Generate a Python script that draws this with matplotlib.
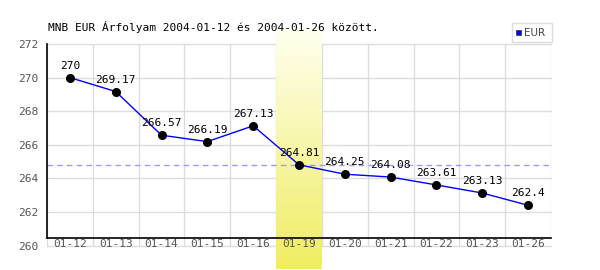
import numpy as np
import matplotlib
matplotlib.use('Agg')
import matplotlib.pyplot as plt
from matplotlib.patches import Rectangle

# Data
dates = ['01-12', '01-13', '01-14', '01-15', '01-16', '01-19',
         '01-20', '01-21', '01-22', '01-23', '01-26']
rates = [270, 269.17, 266.57, 266.19, 267.13, 264.81,
         264.25, 264.08, 263.61, 263.13, 262.4]
highlight = '01-19'
ref_value = 264.81
title = 'MNB EUR Árfolyam 2004-01-12 és 2004-01-26 között.'

mono = 'DejaVu Sans Mono'

fig = plt.figure(figsize=(6, 2.7), dpi=100)
ax = fig.add_axes([47 / 600, 1 - 245.6 / 270, 504 / 600, (245.6 - 44) / 270])
ax.set_axisbelow(False)

x = np.arange(len(dates))

# grid
for yv in range(260, 273, 2):
    ax.axhline(yv, color='#dddddd', lw=1, zorder=1, clip_on=False)
for xv in np.arange(-0.5, len(dates), 1.0):
    ax.axvline(xv, color='#dddddd', lw=1, zorder=1)

# highlighted day band with gradient (extends beyond the axes)
hi = dates.index(highlight)
t = np.linspace(0, 1, 256).reshape(256, 1, 1)
top = np.array([1.0, 1.0, 0.94])
bot = np.array([0.94, 0.93, 0.38])
img = top + (bot - top) * t
ax.imshow(img, extent=(hi - 0.5, hi + 0.5, 258.6, 272.9),
          aspect='auto', zorder=2, clip_on=False, interpolation='bilinear')
ax.set_xlim(-0.5, len(dates) - 0.5)
ax.set_ylim(260, 272)

# reference dashed line
ax.axhline(ref_value, color='#9999ff', lw=1, ls=(0, (4, 3)), zorder=3)

# series
ax.plot(x, rates, color='#0000ff', lw=1, zorder=4)
ax.plot(x, rates, 'o', color='black', ms=5.5, zorder=5)
for xi, v in zip(x, rates):
    ax.annotate(f'{v:g}', (xi, v), xytext=(0, 5), textcoords='offset points',
                ha='center', va='bottom', fontsize=8, family=mono, zorder=6)

# axes styling
for s in ['top', 'right', 'bottom']:
    ax.spines[s].set_visible(False)
axis_y = 260.45
ax.spines['left'].set_bounds(axis_y, 272)
ax.spines['left'].set_linewidth(1.2)
ax.spines['left'].set_zorder(7)
ax.plot([-0.5, len(dates) - 0.5], [axis_y, axis_y], color='black', lw=1.2,
        zorder=7, clip_on=False)

ax.set_yticks(range(260, 273, 2))
ax.set_yticklabels([str(v) for v in range(260, 273, 2)], family=mono,
                   fontsize=8, color='#555555')
ax.set_xticks(x)
ax.set_xticklabels(dates, family=mono, fontsize=8, color='#555555')
ax.tick_params(length=0)
ax.tick_params(axis='y', pad=6)
ax.tick_params(axis='x', pad=-5)

fig.text(48 / 600, 1 - 27 / 270, title, family=mono, fontsize=8,
         ha='left', va='center')

# legend box
fig.add_artist(Rectangle((512 / 600, 1 - 42 / 270), 40 / 600, 19 / 270,
                         transform=fig.transFigure, fill=False,
                         edgecolor='#dddddd', lw=1))
fig.add_artist(Rectangle((516 / 600, 1 - 35 / 270), 5 / 600, 5 / 270,
                         transform=fig.transFigure, facecolor='#0000ff',
                         edgecolor='#333333', lw=0.5))
fig.text(524 / 600, 1 - 32.5 / 270, 'EUR', fontsize=7.5, color='#444444',
         ha='left', va='center')

fig.savefig('out.png', dpi=100)
